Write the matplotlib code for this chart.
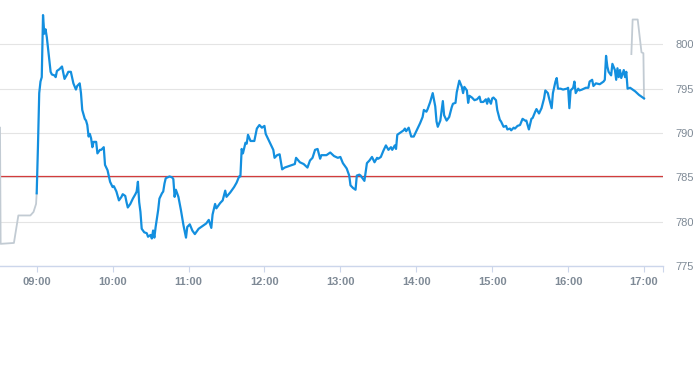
import matplotlib
matplotlib.use('Agg')
import matplotlib.pyplot as plt
from matplotlib.ticker import FixedLocator, FuncFormatter

plt.rcParams['font.family'] = ['Liberation Sans', 'DejaVu Sans']

# 时间：距 09:00 开盘的分钟数
pre_min = [-29, -28.5, -18, -14.5, -5, -2.5, -0.5, 0]
pre_price = [790.6, 777.5, 777.6, 780.7, 780.7, 781.1, 782.0, 783.2]

day_min = [0, 1, 2, 3, 4, 5, 6, 7, 8, 11, 12, 14, 15, 16, 18, 20, 21, 22, 24, 25,
           27, 29, 31, 32, 34, 35, 36, 38, 39, 40, 41, 42, 43, 44, 45, 47, 48, 50, 51, 53,
           54, 56, 58, 60, 61, 63, 65, 67, 68, 70, 71, 72, 74, 76, 78, 79, 80, 81, 82, 83,
           85, 87, 88, 90, 91, 92, 93, 94, 96, 97, 99, 100, 101, 102, 105, 107, 108, 109, 110, 112,
           114, 116, 118, 119, 121, 123, 125, 128, 130, 132, 134, 136, 138, 139, 141, 142, 145, 147, 149, 150,
           153, 156, 158, 160, 161, 162, 163, 165, 166, 167, 169, 172, 174, 176, 178, 180, 181, 184, 187, 188,
           190, 192, 194, 196, 200, 204, 205, 208, 211, 214, 216, 218, 220, 222, 224, 225, 229, 232, 235, 238,
           240, 242, 245, 247, 248, 250, 252, 253, 255, 256, 259, 261, 263, 265, 267, 269, 270, 272, 274, 276,
           278, 280, 281, 283, 284, 285, 288, 290, 291, 292, 294, 296, 298, 301, 303, 305, 306, 308, 309, 311,
           313, 315, 316, 317, 319, 321, 322, 324, 326, 328, 329, 331, 332, 334, 336, 337, 338, 340, 341, 342,
           344, 346, 348, 350, 351, 353, 355, 356, 357, 359, 360, 361, 363, 364, 366, 367, 369, 371, 372, 374,
           375, 377, 378, 380, 382, 384, 386, 387, 389, 391, 392, 394, 395, 397, 399, 401, 402, 404, 405, 407,
           408, 410, 411, 412, 414, 416, 419, 420, 421, 422, 424, 425, 426, 428, 429, 431, 434, 436, 437, 439,
           440, 442, 445, 446, 448, 449, 450, 451, 452, 454, 455, 457, 458, 459, 460, 461, 462, 464, 465, 466,
           467, 469, 473, 476, 480]
day_price = [783.2, 788.5, 794.5, 795.8, 796.3, 803.3, 801.2, 801.7, 800.8, 796.9, 796.6, 796.5, 796.3, 797.0, 797.2, 797.5, 796.8, 796.1, 796.6, 796.9,
             796.9, 795.6, 794.9, 795.3, 795.6, 794.5, 792.6, 791.6, 791.4, 790.9, 789.6, 789.9, 789.4, 788.4, 789.0, 789.0, 787.7, 788.1, 788.1, 788.4,
             786.4, 785.8, 784.5, 783.9, 784.0, 783.4, 782.4, 782.8, 783.1, 782.9, 782.2, 781.6, 782.0, 782.6, 783.1, 783.4, 784.5, 782.2, 781.1, 779.2,
             778.8, 778.7, 778.3, 778.5, 778.1, 779.0, 778.2, 779.4, 781.3, 782.6, 783.2, 783.4, 784.3, 784.9, 785.1, 785.0, 784.8, 782.8, 783.6, 782.8,
             781.3, 779.6, 778.2, 779.4, 779.7, 779.0, 778.6, 779.2, 779.4, 779.6, 779.8, 780.2, 779.3, 780.8, 782.0, 781.5, 782.1, 782.4, 783.5, 782.8,
             783.3, 783.9, 784.4, 785.1, 785.1, 788.2, 787.7, 788.9, 788.8, 789.8, 789.1, 789.1, 790.5, 790.9, 790.6, 790.8, 789.9, 789.0, 788.1, 787.2,
             787.5, 787.6, 785.9, 786.1, 786.3, 786.5, 787.2, 786.7, 786.5, 786.1, 786.9, 787.2, 788.1, 788.2, 787.1, 787.5, 787.5, 787.8, 787.4, 787.2,
             787.3, 786.6, 786.0, 785.2, 784.1, 783.8, 783.6, 785.2, 785.3, 785.2, 784.6, 786.6, 786.9, 787.3, 786.7, 787.2, 787.1, 787.3, 788.0, 788.6,
             788.1, 788.4, 788.1, 788.6, 788.2, 789.8, 790.1, 790.3, 790.5, 790.2, 790.6, 789.6, 789.6, 790.5, 791.1, 791.8, 792.6, 792.4, 792.7, 793.5,
             794.5, 793.0, 791.3, 790.7, 791.4, 793.6, 792.0, 791.4, 791.8, 792.9, 793.3, 793.4, 794.6, 795.9, 795.2, 794.5, 795.2, 794.8, 793.4, 794.2,
             794.0, 793.7, 793.8, 794.1, 793.5, 793.5, 793.8, 793.3, 793.9, 793.3, 793.9, 794.0, 793.7, 792.6, 791.5, 791.3, 790.7, 790.8, 790.4, 790.5,
             790.3, 790.6, 790.5, 790.8, 790.9, 791.6, 791.4, 791.4, 790.4, 791.6, 791.7, 792.4, 792.7, 792.2, 792.8, 793.9, 794.8, 794.5, 793.9, 792.8,
             794.5, 795.8, 796.2, 795.0, 795.0, 794.9, 795.0, 795.1, 792.8, 794.8, 795.1, 795.8, 794.5, 795.0, 794.8, 794.9, 795.1, 795.1, 795.8, 796.0,
             795.3, 795.6, 795.5, 795.6, 795.8, 796.0, 798.7, 797.5, 796.9, 796.5, 797.8, 797.1, 796.0, 797.3, 796.3, 797.1, 796.2, 797.1, 796.3, 796.9,
             795.0, 795.1, 794.7, 794.3, 793.9]

post_min = [470, 471, 475, 478, 479.5, 480]
post_price = [798.9, 802.8, 802.8, 799.1, 799.0, 793.9]

prev_close = 785.2
y_ticks = [775, 780, 785, 790, 795, 800]
hour_ticks = [0, 60, 120, 180, 240, 300, 360, 420, 480]

fig = plt.figure(figsize=(6.93, 3.65), dpi=100)
ax = fig.add_axes([0, 1 - 266 / 365, 663 / 693, 266 / 365])

ax.plot(pre_min, pre_price, color='#c2cbd3', lw=1.3, zorder=3)
ax.plot(post_min, post_price, color='#c2cbd3', lw=1.3, zorder=3)
ax.plot(day_min, day_price, color='#138fdf', lw=1.6, zorder=4)
ax.axhline(prev_close, color='#d23c3c', lw=0.9, zorder=2)

ax.set_xlim(-29, 495)
ax.set_ylim(775, 805)

ax.set_yticks(y_ticks)
ax.yaxis.tick_right()
ax.tick_params(axis='y', length=0, pad=9, labelsize=8, labelcolor='#7f8a96')
ax.grid(axis='y', color='#e4e4e4', lw=0.8)

ax.xaxis.set_major_locator(FixedLocator(hour_ticks))
ax.xaxis.set_major_formatter(FuncFormatter(lambda m, _: f'{9 + int(m) // 60:02d}:00'))
ax.xaxis.set_minor_locator(FixedLocator([495]))
ax.tick_params(axis='x', which='both', length=4, width=0.8, color='#ccd6eb',
               pad=4, labelsize=8, labelcolor='#7f8a96')
for lab in ax.get_xticklabels():
    lab.set_fontweight('bold')

for side in ['top', 'left', 'right']:
    ax.spines[side].set_visible(False)
ax.spines['bottom'].set_color('#ccd6eb')
ax.spines['bottom'].set_linewidth(1)

fig.savefig('out.png', dpi=100)
